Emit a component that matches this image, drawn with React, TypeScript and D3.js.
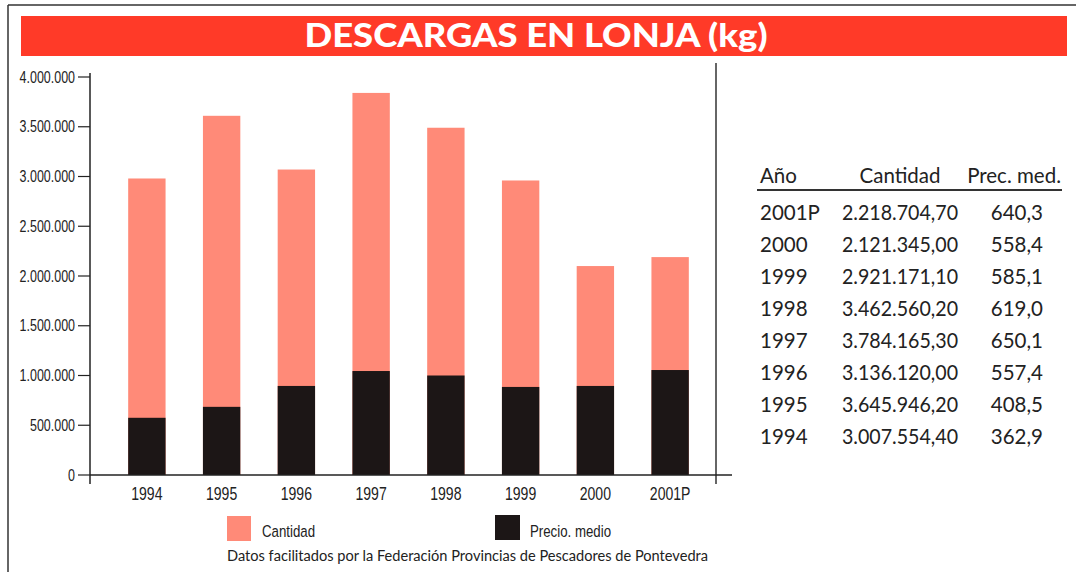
import React from "react";
import * as d3 from "d3";

// bar heights (kg axis units)
const years = ["1994", "1995", "1996", "1997", "1998", "1999", "2000", "2001P"];
const cantidad = [2980000, 3610000, 3070000, 3840000, 3490000, 2960000, 2100000, 2190000];
const precioMedio = [575000, 685000, 895000, 1045000, 1000000, 885000, 895000, 1055000];
const yTicks = [0, 500000, 1000000, 1500000, 2000000, 2500000, 3000000, 3500000, 4000000];

// side table
const tableYears = ["2001P", "2000", "1999", "1998", "1997", "1996", "1995", "1994"];
const tableCantidad = [
  "2.218.704,70",
  "2.121.345,00",
  "2.921.171,10",
  "3.462.560,20",
  "3.784.165,30",
  "3.136.120,00",
  "3.645.946,20",
  "3.007.554,40",
];
const tablePrecio = ["640,3", "558,4", "585,1", "619,0", "650,1", "557,4", "408,5", "362,9"];

const W = 1076;
const H = 575;
const PINK = "#ff8a78";
const DARK = "#1c1616";
const RED = "#ff3a28";
const NARROW = "'Liberation Sans', Arial, sans-serif";
const GEO = "'Lato', 'Noto Sans', sans-serif";
const SQUEEZE = 0.78; // fake a condensed face

const es = d3.formatLocale({
  decimal: ",",
  thousands: ".",
  grouping: [3],
  currency: ["", ""],
});
const fmt = es.format(",d");

// condensed label helper
function Narrow(props: {
  x: number;
  y: number;
  size: number;
  anchor?: string;
  children: React.ReactNode;
}) {
  return (
    <text
      transform={`translate(${props.x},${props.y}) scale(${SQUEEZE},1)`}
      textAnchor={props.anchor ?? "start"}
      fontFamily={NARROW}
      fontSize={props.size}
      fill="#222"
    >
      {props.children}
    </text>
  );
}

export default function App() {
  const x = d3
    .scaleBand<string>()
    .domain(years)
    .range([109.5, 707.5])
    .paddingInner(0.5)
    .paddingOuter(0.25);
  const y = d3.scaleLinear().domain([0, 4000000]).range([475, 77]);

  const axisLeft = 90;
  const axisRight = 716;

  return (
    <svg
      width={W}
      height={H}
      style={{ position: "absolute", left: 0, top: 0, background: "#fff" }}
    >
      {/* frame */}
      <line x1={8} x2={W} y1={5} y2={5} stroke="#333" strokeWidth={1.5} />
      <line x1={8} x2={8} y1={5} y2={572} stroke="#333" strokeWidth={1.5} />

      {/* title bar */}
      <rect x={21} y={16} width={1046} height={40} fill={RED} />
      <text
        x={536}
        y={47}
        textAnchor="middle"
        fill="#fff"
        fontFamily={GEO}
        fontWeight={900}
        fontSize={32}
        textLength={463}
        lengthAdjust="spacingAndGlyphs"
      >
        DESCARGAS EN LONJA (kg)
      </text>

      {/* bars */}
      {years.map((yr, i) => (
        <g key={yr}>
          <rect
            x={x(yr)}
            y={y(cantidad[i])}
            width={x.bandwidth()}
            height={y(0) - y(cantidad[i])}
            fill={PINK}
          />
          <rect
            x={x(yr)}
            y={y(precioMedio[i])}
            width={x.bandwidth()}
            height={y(0) - y(precioMedio[i])}
            fill={DARK}
          />
        </g>
      ))}

      {/* axes */}
      <line x1={axisLeft} x2={axisLeft} y1={73} y2={484} stroke="#222" strokeWidth={1.5} />
      <line x1={axisRight} x2={axisRight} y1={63} y2={484} stroke="#333" strokeWidth={1.5} />
      <line x1={axisLeft} x2={732} y1={y(0)} y2={y(0)} stroke="#222" strokeWidth={1.5} />
      {yTicks.map((t) => (
        <g key={t}>
          <line x1={78} x2={axisLeft} y1={y(t)} y2={y(t)} stroke="#222" strokeWidth={1.2} />
          <Narrow x={75} y={y(t) + 5.5} size={16} anchor="end">
            {fmt(t)}
          </Narrow>
        </g>
      ))}
      {years.map((yr) => (
        <Narrow
          key={yr}
          x={(x(yr) ?? 0) + x.bandwidth() / 2}
          y={500}
          size={18}
          anchor="middle"
        >
          {yr}
        </Narrow>
      ))}

      {/* legend */}
      <rect x={227} y={516} width={24} height={25} fill={PINK} />
      <Narrow x={262} y={537} size={17}>
        Cantidad
      </Narrow>
      <rect x={495} y={515} width={25} height={25} fill={DARK} />
      <Narrow x={530} y={537} size={17}>
        Precio. medio
      </Narrow>
      <text
        x={227}
        y={561}
        fontFamily={GEO}
        fontSize={15.5}
        fill="#222"
        textLength={481}
        lengthAdjust="spacingAndGlyphs"
      >
        Datos facilitados por la Federación Provincias de Pescadores de Pontevedra
      </text>

      {/* table */}
      <g fontFamily={GEO} fontSize={20.5} fill="#222">
        <text x={760} y={183}>Año</text>
        <text x={900} y={183} textAnchor="middle">Cantidad</text>
        <text x={1061} y={183} textAnchor="end">Prec. med.</text>
        <line x1={757} x2={1062} y1={190} y2={190} stroke="#333" strokeWidth={2} />
        {tableYears.map((yr, i) => (
          <g key={yr}>
            <text x={760} y={220 + i * 32}>{yr}</text>
            <text x={842} y={220 + i * 32} textLength={116} lengthAdjust="spacingAndGlyphs">
              {tableCantidad[i]}
            </text>
            <text x={1043} y={220 + i * 32} textAnchor="end">{tablePrecio[i]}</text>
          </g>
        ))}
      </g>
    </svg>
  );
}
